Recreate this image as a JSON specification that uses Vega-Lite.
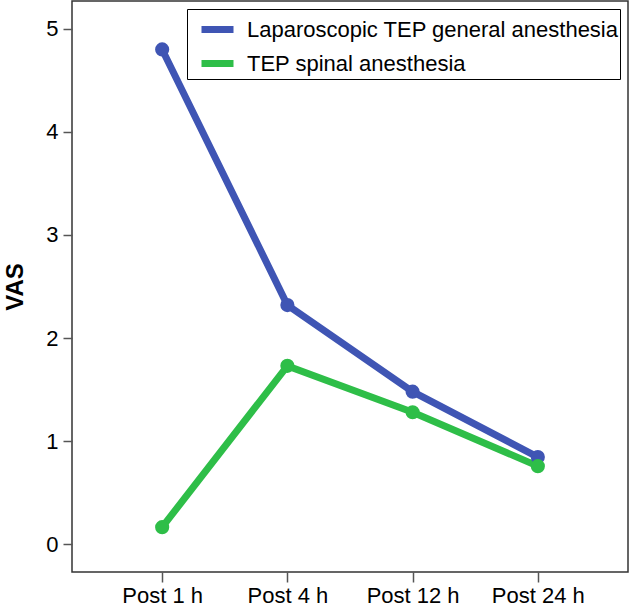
{
  "$schema": "https://vega.github.io/schema/vega-lite/v6.json",
  "width": 556,
  "height": 571,
  "autosize": {"type": "none"},
  "padding": {"left": 72, "top": 1, "right": 2, "bottom": 35},
  "background": "white",
  "config": {
    "font": "Liberation Sans",
    "view": {"stroke": "#333333", "strokeWidth": 1.5}
  },
  "data": {
    "values": [
      {"time": "Post 1 h", "group": "Laparoscopic TEP general anesthesia", "vas": 4.80},
      {"time": "Post 4 h", "group": "Laparoscopic TEP general anesthesia", "vas": 2.32},
      {"time": "Post 12 h", "group": "Laparoscopic TEP general anesthesia", "vas": 1.48},
      {"time": "Post 24 h", "group": "Laparoscopic TEP general anesthesia", "vas": 0.845},
      {"time": "Post 1 h", "group": "TEP spinal anesthesia", "vas": 0.165},
      {"time": "Post 4 h", "group": "TEP spinal anesthesia", "vas": 1.73},
      {"time": "Post 12 h", "group": "TEP spinal anesthesia", "vas": 1.28},
      {"time": "Post 24 h", "group": "TEP spinal anesthesia", "vas": 0.757}
    ]
  },
  "encoding": {
    "x": {
      "field": "time",
      "type": "ordinal",
      "sort": ["Post 1 h", "Post 4 h", "Post 12 h", "Post 24 h"],
      "scale": {"type": "point", "padding": 0.72},
      "axis": {
        "title": null,
        "labelAngle": 0,
        "domain": false,
        "grid": false,
        "tickSize": 10,
        "tickColor": "#555555",
        "tickWidth": 1.5,
        "labelPadding": 3,
        "labelFontSize": 22,
        "labelColor": "#000000",
        "labelFont": "Liberation Sans"
      }
    },
    "y": {
      "field": "vas",
      "type": "quantitative",
      "scale": {"domain": [-0.27, 5.27], "nice": false, "zero": false},
      "axis": {
        "title": "VAS",
        "titleFont": "Liberation Sans",
        "titleFontSize": 24,
        "titleFontWeight": "bold",
        "titleColor": "#000000",
        "titlePadding": 18,
        "values": [0, 1, 2, 3, 4, 5],
        "domain": false,
        "grid": false,
        "tickSize": 9,
        "tickColor": "#555555",
        "tickWidth": 1.5,
        "labelPadding": 5,
        "labelFontSize": 22,
        "labelColor": "#000000",
        "labelFont": "Liberation Sans"
      }
    },
    "color": {
      "field": "group",
      "type": "nominal",
      "sort": ["Laparoscopic TEP general anesthesia", "TEP spinal anesthesia"],
      "scale": {"range": ["#3F55B4", "#2EBE48"]},
      "legend": {
        "title": null,
        "orient": "none",
        "legendX": 115,
        "legendY": 8,
        "symbolType": "stroke",
        "symbolSize": 1024,
        "symbolStrokeWidth": 7,
        "symbolOffset": 10,
        "labelFontSize": 22,
        "labelFont": "Liberation Sans",
        "labelColor": "#000000",
        "labelOffset": 10,
        "labelLimit": 600,
        "rowPadding": -4,
        "padding": 1,
        "strokeColor": "#000000",
        "fillColor": "white"
      }
    }
  },
  "layer": [
    {"mark": {"type": "line", "strokeWidth": 7}},
    {"mark": {"type": "circle", "size": 200, "opacity": 1}}
  ]
}
